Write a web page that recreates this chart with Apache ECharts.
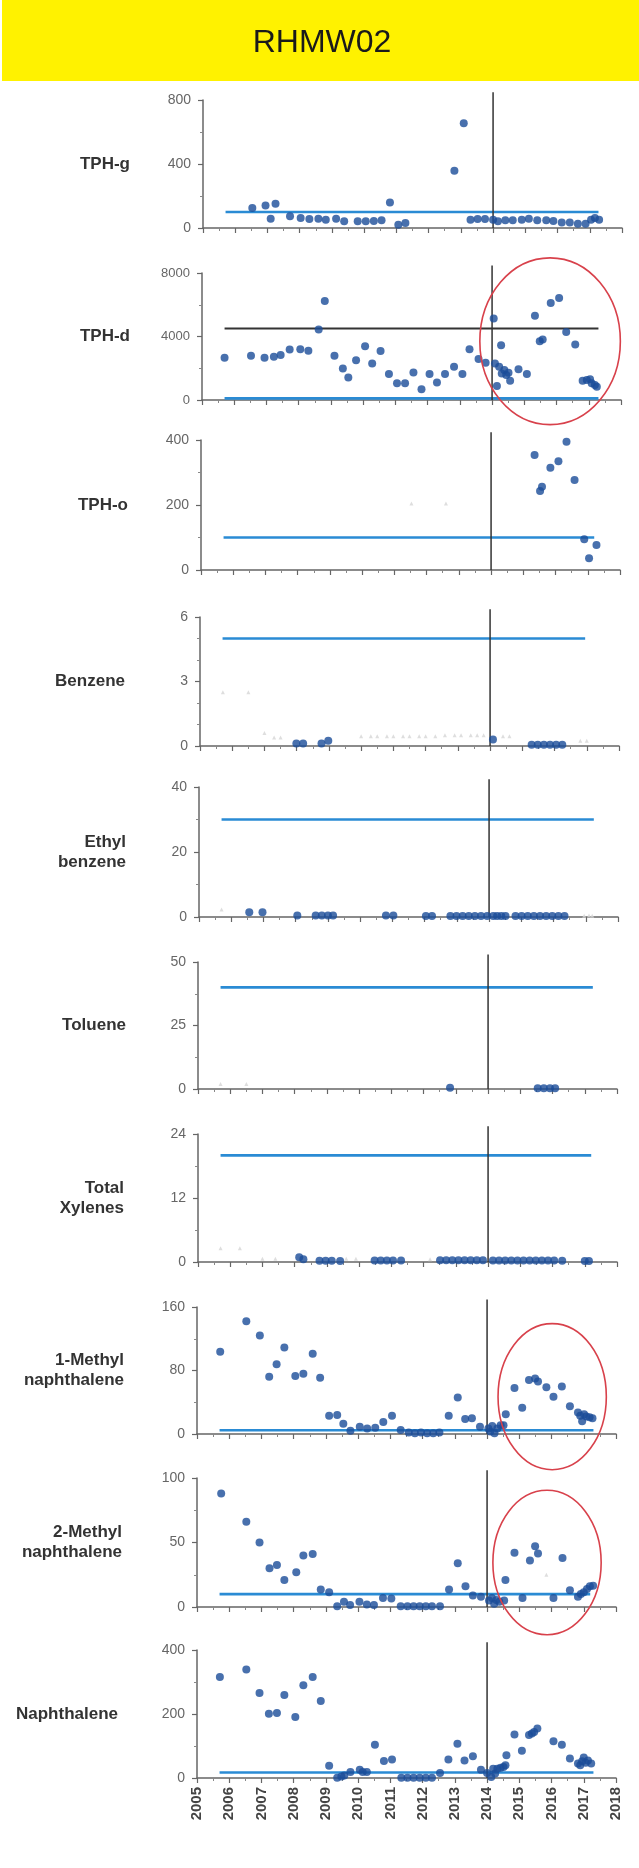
<!DOCTYPE html>
<html><head><meta charset="utf-8">
<script src="https://cdn.jsdelivr.net/npm/echarts@6/dist/echarts.min.js"></script>
<style>html,body{margin:0;padding:0;background:#fff}#c{width:639px;height:1868px}</style>
</head><body><div id="c"></div>
<script>
// ---------- DATA ----------
const wellName = 'RHMW02';
const panelNames = ['TPH-g','TPH-d','TPH-o','Benzene','Ethyl\nbenzene','Toluene','Total\nXylenes','1-Methyl\nnaphthalene','2-Methyl\nnaphthalene','Naphthalene'];
const yMax = [800, 8000, 400, 6, 40, 50, 24, 160, 100, 400];
const screeningLevel = [100, 100, 100, 5, 30, 40, 20, 4.7, 10, 17];
const screeningStart = 2005.7;
const screeningEnd = [2017.27, 2017.3, 2017.2, 2016.95, 2017.25, 2017.25, 2017.2, 2017.3, 2017.2, 2017.3];
const xTickYears = [2005,2006,2007,2008,2009,2010,2011,2012,2013,2014,2015,2016,2017,2018];
const changeYear = 2014;
const tphdCriterion = [[2005.7, 4500], [2017.3, 4500]];

const tphg = [[2006.53,125],[2006.94,141],[2007.25,152],[2007.10,58],[2007.70,73],[2008.03,62],[2008.30,56],[2008.58,58],[2008.81,52],[2009.13,58],[2009.38,42],[2009.80,42],[2010.05,42],[2010.30,44],[2010.54,48],[2010.80,160],[2011.06,21],[2011.28,31],[2012.80,358],[2013.09,655],[2013.30,52],[2013.52,56],[2013.75,56],[2014.00,52],[2014.15,42],[2014.38,48],[2014.61,48],[2014.89,52],[2015.11,58],[2015.37,48],[2015.65,48],[2015.87,44],[2016.13,35],[2016.38,35],[2016.63,27],[2016.87,27],[2017.04,52],[2017.16,62],[2017.29,52]];
const tphd = [[2005.70,2660],[2006.52,2785],[2006.94,2660],[2007.23,2720],[2007.44,2830],[2007.72,3180],[2008.05,3200],[2008.30,3100],[2008.62,4440],[2008.81,6240],[2009.11,2785],[2009.37,1990],[2009.54,1420],[2009.78,2510],[2010.06,3390],[2010.28,2300],[2010.54,3080],[2010.80,1630],[2011.05,1050],[2011.30,1050],[2011.56,1740],[2011.81,670],[2012.06,1630],[2012.29,1110],[2012.54,1630],[2012.82,2090],[2013.08,1630],[2013.30,3200],[2013.58,2575],[2013.80,2345],[2014.05,5130],[2014.09,2300],[2014.15,880],[2014.22,2090],[2014.28,3455],[2014.30,1675],[2014.38,1885],[2014.44,1570],[2014.51,1720],[2014.56,1215],[2014.82,1930],[2015.08,1630],[2015.33,5300],[2015.48,3700],[2015.57,3810],[2015.82,6110],[2016.08,6430],[2016.30,4290],[2016.58,3500],[2016.81,1215],[2016.94,1260],[2017.04,1300],[2017.09,1050],[2017.19,940],[2017.25,840]];
const tpho = [[2015.35,354],[2015.52,243],[2015.58,256],[2015.84,315],[2016.09,335],[2016.34,395],[2016.59,277],[2016.89,95],[2017.04,36],[2017.27,77]];
const tphoND = [[2011.53,205],[2012.60,205]];
const benzene = [[2007.99,0.12],[2008.20,0.12],[2008.77,0.12],[2008.98,0.25],[2014.09,0.3],[2015.29,0.06],[2015.48,0.06],[2015.67,0.06],[2015.86,0.06],[2016.05,0.06],[2016.24,0.06]];
const benzeneND = [[2005.71,2.5],[2006.50,2.5],[2007.0,0.6],[2007.3,0.4],[2007.5,0.4],[2010.0,0.45],[2010.3,0.45],[2010.5,0.45],[2010.8,0.45],[2011.0,0.45],[2011.3,0.45],[2011.5,0.45],[2011.8,0.45],[2012.0,0.45],[2012.3,0.45],[2012.6,0.5],[2012.9,0.5],[2013.1,0.5],[2013.4,0.5],[2013.6,0.5],[2013.8,0.5],[2014.4,0.45],[2014.6,0.45],[2016.8,0.25],[2017.0,0.25]];
const ethylbenzene = [[2006.56,1.5],[2006.97,1.5],[2008.05,0.5],[2008.62,0.5],[2008.81,0.5],[2009.00,0.5],[2009.16,0.5],[2010.80,0.5],[2011.03,0.5],[2012.04,0.3],[2012.23,0.3],[2012.80,0.3],[2012.99,0.3],[2013.18,0.3],[2013.37,0.3],[2013.56,0.3],[2013.75,0.3],[2013.94,0.3],[2014.13,0.3],[2014.25,0.3],[2014.38,0.3],[2014.51,0.3],[2014.82,0.3],[2015.01,0.3],[2015.20,0.3],[2015.39,0.3],[2015.58,0.3],[2015.77,0.3],[2015.96,0.3],[2016.15,0.3],[2016.34,0.3]];
const ethylbenzeneND = [[2005.70,2.3],[2016.95,0.4],[2017.1,0.5],[2017.2,0.4]];
const toluene = [[2012.82,0.5],[2015.54,0.3],[2015.73,0.3],[2015.92,0.3],[2016.08,0.3]];
const tolueneND = [[2005.70,2.0],[2006.50,2.0]];
const xylenes = [[2008.14,0.9],[2008.27,0.5],[2008.77,0.25],[2008.96,0.25],[2009.15,0.25],[2009.41,0.2],[2010.48,0.3],[2010.67,0.3],[2010.86,0.3],[2011.05,0.3],[2011.30,0.3],[2012.51,0.35],[2012.70,0.35],[2012.89,0.35],[2013.08,0.35],[2013.27,0.35],[2013.46,0.35],[2013.65,0.35],[2013.84,0.35],[2014.15,0.3],[2014.34,0.3],[2014.53,0.3],[2014.72,0.3],[2014.91,0.3],[2015.10,0.3],[2015.29,0.3],[2015.48,0.3],[2015.67,0.3],[2015.86,0.3],[2016.05,0.3],[2016.30,0.25],[2017.00,0.2],[2017.13,0.2]];
const xylenesND = [[2005.70,2.6],[2006.30,2.6],[2007.0,0.6],[2007.4,0.6],[2009.6,0.6],[2009.9,0.6],[2012.2,0.5]];
const methylnaph1 = [[2005.72,103.5],[2006.53,142],[2006.95,124],[2007.24,72],[2007.47,88],[2007.71,109],[2008.05,73],[2008.30,76],[2008.59,101],[2008.82,71],[2009.10,23],[2009.35,24],[2009.54,13],[2009.76,4],[2010.05,9],[2010.28,7],[2010.53,8],[2010.78,15],[2011.05,23],[2011.32,5],[2011.57,2],[2011.76,1],[2011.95,2],[2012.14,1],[2012.33,1],[2012.52,2],[2012.81,23],[2013.09,46],[2013.32,19],[2013.53,20],[2013.78,9],[2014.04,7],[2014.10,3],[2014.16,10],[2014.23,1],[2014.32,7],[2014.42,11],[2014.51,11],[2014.58,25],[2014.85,58],[2015.09,33],[2015.30,68],[2015.49,70],[2015.58,66],[2015.84,59],[2016.06,47],[2016.32,60],[2016.57,35],[2016.82,27],[2016.89,23],[2016.95,16],[2017.01,25],[2017.08,22],[2017.18,21],[2017.27,20]];
const methylnaph2 = [[2005.75,88],[2006.53,66],[2006.94,50],[2007.25,30],[2007.48,32.5],[2007.71,21],[2008.08,27],[2008.30,40],[2008.59,41],[2008.84,13.5],[2009.10,11.5],[2009.35,0.5],[2009.56,4],[2009.75,1.5],[2010.04,4],[2010.27,2],[2010.49,1.5],[2010.77,7],[2011.03,6.5],[2011.32,0.5],[2011.53,0.5],[2011.72,0.5],[2011.91,0.5],[2012.10,0.5],[2012.29,0.5],[2012.54,0.5],[2012.82,13.5],[2013.09,34],[2013.33,16],[2013.56,9],[2013.81,8],[2014.06,5],[2014.15,7],[2014.22,2.5],[2014.29,5.5],[2014.38,4],[2014.53,5],[2014.57,21],[2014.85,42],[2015.10,7],[2015.33,36],[2015.49,47],[2015.58,41.5],[2016.06,7],[2016.34,38],[2016.57,13],[2016.82,8],[2016.91,10],[2017.00,11.5],[2017.10,14],[2017.19,16],[2017.29,16.5]];
const methylnaph2ND = [[2015.84,25]];
const naphthalene = [[2005.71,316],[2006.53,339],[2006.94,266],[2007.23,201],[2007.48,203],[2007.71,259],[2008.05,191],[2008.30,290],[2008.59,316],[2008.84,241],[2009.10,38],[2009.35,1],[2009.48,5],[2009.57,8],[2009.76,19],[2010.05,26],[2010.14,19],[2010.27,19],[2010.52,104],[2010.80,53],[2011.05,58],[2011.34,1],[2011.53,1],[2011.72,1],[2011.91,1],[2012.10,1],[2012.29,1],[2012.54,16],[2012.80,58],[2013.08,107],[2013.30,55],[2013.56,68],[2013.81,26],[2014.00,16],[2014.13,3],[2014.19,29],[2014.25,14],[2014.32,29],[2014.42,32],[2014.51,34],[2014.57,40],[2014.60,71],[2014.85,136],[2015.08,85],[2015.30,134],[2015.39,139],[2015.46,144],[2015.56,155],[2016.06,115],[2016.32,104],[2016.57,61],[2016.82,45],[2016.89,40],[2016.95,52],[2017.00,64],[2017.06,48],[2017.13,55],[2017.23,45]];

// highlight ellipses: [centerYear, centerValue, radiusYears, radiusValue]
const tphdEllipse = [2015.8, 3700, 2.18, 5250];
const methylnaph1Ellipse = [2016.02, 47, 1.68, 92];
const methylnaph2Ellipse = [2015.86, 34.5, 1.68, 56];

const detected = [tphg, tphd, tpho, benzene, ethylbenzene, toluene, xylenes, methylnaph1, methylnaph2, naphthalene];
const nonDetect = [[], [], tphoND, benzeneND, ethylbenzeneND, tolueneND, xylenesND, [], methylnaph2ND, []];
const ellipses = [null, tphdEllipse, null, null, null, null, null, methylnaph1Ellipse, methylnaph2Ellipse, null];

// ---------- LAYOUT ----------
const gTop = [100, 273, 440, 617, 787, 962, 1134, 1307, 1478, 1650];
const gBottom = [228, 400, 570, 746, 917, 1089, 1262, 1434, 1607, 1778];
const gLeft = [203, 202, 201, 200, 199, 198, 198, 197, 197, 197];
const gWidth = 419;
const labelRight = [130, 130, 128, 125, 126, 126, 124, 124, 122, 118];
const yLabelSize = [14, 13, 14, 14, 14, 14, 14, 14, 14, 14];
const minorSplit = [2, 2, 2, 3, 2, 2, 2, 2, 2, 2];

const DOT = '#1a4c98', SL = '#2a8bd4', AX = '#666';

const grids = [], xAxes = [], yAxes = [], series = [];
const graphics = [
  {type:'rect', shape:{x:2, y:0, width:637, height:81}, style:{fill:'#FFF200'}, z:0},
  {type:'text', x:322, y:43, style:{text:wellName, font:'32px "Liberation Sans", Arial, sans-serif', fill:'#1a1a1a', align:'center', verticalAlign:'middle'}, z:1}
];

for (let i = 0; i < 10; i++) {
  grids.push({left:gLeft[i], top:gTop[i], width:gWidth, height:gBottom[i]-gTop[i], containLabel:false});
  xAxes.push({
    type:'value', gridIndex:i, min:xTickYears[0], max:xTickYears[xTickYears.length-1], interval:1,
    axisLine:{show:true, onZero:false, lineStyle:{color:AX, width:1.5}},
    axisTick:{show:true, length:5, lineStyle:{color:AX, width:1.2}},
    minorTick:{show:true, splitNumber:2, length:3, lineStyle:{color:'#888', width:1}},
    splitLine:{show:false},
    axisLabel:{show: i === 9, rotate:90, margin:9, color:'#444', fontSize:15, fontWeight:'bold', fontFamily:'"Liberation Sans", Arial, sans-serif',
      formatter: v => xTickYears.includes(Math.round(v)) ? String(Math.round(v)) : ''}
  });
  yAxes.push({
    type:'value', gridIndex:i, min:0, max:yMax[i], interval:yMax[i]/2,
    axisLine:{show:true, lineStyle:{color:AX, width:1.5}},
    axisTick:{show:true, length:5, lineStyle:{color:AX, width:1.2}},
    minorTick:{show:true, splitNumber:minorSplit[i], length:3, lineStyle:{color:'#888', width:1}},
    splitLine:{show:false},
    axisLabel:{color:'#666', fontSize:yLabelSize[i], margin:12, fontFamily:'"Liberation Sans", Arial, sans-serif',
      formatter: v => String(v)}
  });
  graphics.push({type:'text', x:labelRight[i], y:(gTop[i]+gBottom[i])/2,
    style:{text:panelNames[i], font:'bold 17px "Liberation Sans", Arial, sans-serif', fill:'#333', align:'right', verticalAlign:'middle', lineHeight:20}});

  // screening level
  series.push({type:'line', xAxisIndex:i, yAxisIndex:i, data:[[screeningStart, screeningLevel[i]], [screeningEnd[i], screeningLevel[i]]],
    symbol:'none', lineStyle:{color:SL, width:2.6}, z:2, silent:true});
  if (i === 1) {
    series.push({type:'line', xAxisIndex:i, yAxisIndex:i, data:tphdCriterion, symbol:'none', lineStyle:{color:'#333', width:2}, z:2, silent:true});
  }
  // vertical marker at changeYear
  series.push({type:'custom', xAxisIndex:i, yAxisIndex:i, data:[[changeYear, yMax[i]*1.06]], z:3, silent:true, clip:false,
    renderItem:(params, api) => {
      const p0 = api.coord([api.value(0), 0]);
      const p1 = api.coord([api.value(0), api.value(1)]);
      return {type:'line', shape:{x1:p0[0], y1:p0[1], x2:p1[0], y2:p1[1]}, style:{stroke:'#333', lineWidth:1.5}};
    }});
  if (nonDetect[i].length) {
    series.push({type:'scatter', xAxisIndex:i, yAxisIndex:i, data:nonDetect[i], symbol:'triangle', symbolSize:4,
      itemStyle:{color:'#d6d6d6'}, z:3, silent:true});
  }
  series.push({type:'scatter', xAxisIndex:i, yAxisIndex:i, data:detected[i], symbolSize:8, itemStyle:{color:DOT}, z:4, silent:true, clip:false});
  if (ellipses[i]) {
    series.push({type:'custom', xAxisIndex:i, yAxisIndex:i, data:[ellipses[i]], z:5, silent:true, clip:false,
      encode:{x:0, y:1},
      renderItem:(params, api) => {
        const c = api.coord([api.value(0), api.value(1)]);
        const ex = api.coord([api.value(0) + api.value(2), api.value(1)]);
        const ey = api.coord([api.value(0), api.value(1) + api.value(3)]);
        return {type:'ellipse', shape:{cx:c[0], cy:c[1], rx:ex[0]-c[0], ry:c[1]-ey[1]},
          style:{fill:'none', stroke:'#d8414b', lineWidth:1.6}};
      }});
  }
}

const chart = echarts.init(document.getElementById('c'), null, {renderer:'canvas'});
chart.setOption({
  animation:false,
  backgroundColor:'#ffffff',
  grid:grids, xAxis:xAxes, yAxis:yAxes, series:series, graphic:graphics
});
</script></body></html>
